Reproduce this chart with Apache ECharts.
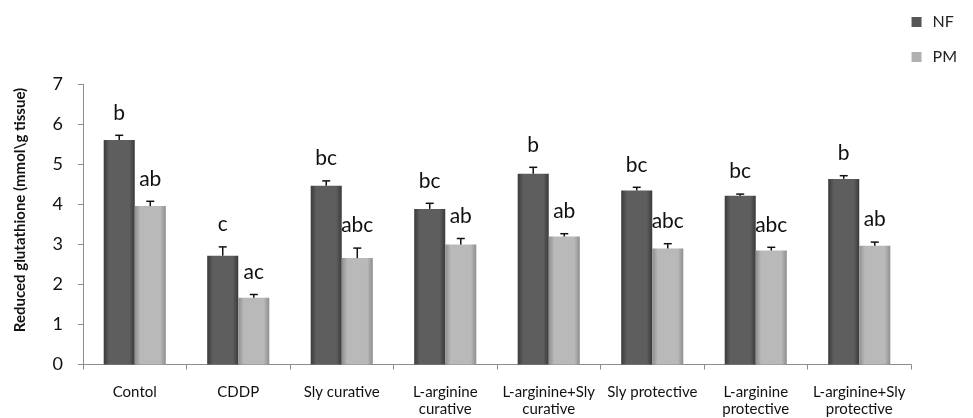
<!DOCTYPE html>
<html>
<head>
<meta charset="utf-8">
<script src="https://cdn.jsdelivr.net/npm/echarts@6/dist/echarts.min.js"></script>
<style>html,body{margin:0;padding:0;background:#fff}#c{width:973px;height:418px}</style>
</head>
<body>
<div id="c"></div>
<script>
var categories = ["Contol", "CDDP", "Sly curative", "L-arginine\ncurative", "L-arginine+Sly\ncurative", "Sly protective", "L-arginine\nprotective", "L-arginine+Sly\nprotective"];
var nfValues = [5.61, 2.72, 4.47, 3.89, 4.77, 4.35, 4.22, 4.64];
var nfErrors = [0.12, 0.22, 0.12, 0.14, 0.16, 0.08, 0.04, 0.08];
var nfLetters = ["b", "c", "bc", "bc", "b", "bc", "bc", "b"];
var pmValues = [3.96, 1.67, 2.66, 3.00, 3.20, 2.90, 2.85, 2.97];
var pmErrors = [0.12, 0.08, 0.25, 0.15, 0.07, 0.12, 0.08, 0.09];
var pmLetters = ["ab", "ac", "abc", "ab", "ab", "abc", "abc", "ab"];
var yTicks = [0, 1, 2, 3, 4, 5, 6, 7];
var yAxisTitle = 'Reduced glutathione (mmol\\g tissue)';

var FONT = "Lato, 'Open Sans', sans-serif";
var chart = echarts.init(document.getElementById('c'));

function grad(edge, mid) {
  return new echarts.graphic.LinearGradient(0, 0, 1, 0, [
    {offset: 0, color: edge}, {offset: 0.18, color: mid},
    {offset: 0.82, color: mid}, {offset: 1, color: edge}
  ]);
}

function errSeries(values, errors, letters, side) {
  var data = values.map(function (v, i) { return [i, v, v + errors[i], letters[i]]; });
  return {
    type: 'custom',
    z: 5,
    silent: true,
    renderItem: function (params, api) {
      var i = api.value(0);
      var base = api.coord([i, api.value(1)]);
      var top = api.coord([i, api.value(2)]);
      var bw = api.size([1, 0])[0];
      var barW = bw * 0.3;
      var x = base[0] + side * barW / 2;
      var cap = 4;
      return {
        type: 'group',
        children: [
          {type: 'line', shape: {x1: x, y1: base[1], x2: x, y2: top[1]}, style: {stroke: '#111', lineWidth: 1.5}},
          {type: 'line', shape: {x1: x - cap, y1: top[1], x2: x + cap, y2: top[1]}, style: {stroke: '#111', lineWidth: 1.5}},
          {type: 'text', style: {x: x, y: top[1] - 12, text: data[params.dataIndex][3], textAlign: 'center', textVerticalAlign: 'bottom', fontSize: 21, fontFamily: FONT, fill: '#111'}}
        ]
      };
    },
    data: data
  };
}

chart.setOption({
  animation: false,
  grid: {left: 83, right: 62, top: 84.5, bottom: 53.5},
  graphic: [{
    type: 'text', x: 20, y: 210, rotation: Math.PI / 2,
    style: {text: yAxisTitle, textAlign: 'center', textVerticalAlign: 'middle',
      fontSize: 15, fontWeight: 'bold', fontFamily: FONT, fill: '#111'}
  }],
  legend: {
    orient: 'vertical', right: 11, top: 9, itemGap: 19,
    itemWidth: 10, itemHeight: 10,
    textStyle: {fontSize: 16, fontFamily: FONT, color: '#222', padding: [0, 0, 0, 6]},
    data: [
      {name: 'NF', icon: 'rect', itemStyle: {color: '#555'}},
      {name: 'PM', icon: 'rect', itemStyle: {color: '#b0b0b0'}}
    ]
  },
  xAxis: {
    type: 'category',
    data: categories,
    axisLine: {lineStyle: {color: '#8c8c8c', width: 1}},
    axisTick: {show: true, length: 5, lineStyle: {color: '#8c8c8c'}},
    axisLabel: {interval: 0, fontSize: 15, fontFamily: FONT, color: '#111', margin: 19, lineHeight: 17}
  },
  yAxis: {
    type: 'value', min: 0, max: 7, interval: 1,
    axisLine: {show: true, lineStyle: {color: '#8c8c8c'}},
    axisTick: {show: true, length: 5, lineStyle: {color: '#8c8c8c'}},
    splitLine: {show: false},
    axisLabel: {fontSize: 18, fontFamily: FONT, color: '#111', margin: 20,
      formatter: function (v) { return yTicks.indexOf(v) >= 0 ? String(v) : ''; }}
  },
  series: [
    {name: 'NF', type: 'bar', data: nfValues, barWidth: '30%', barGap: '0%',
      itemStyle: {color: grad('#3a3a3a', '#5e5e5e')}},
    {name: 'PM', type: 'bar', data: pmValues, barWidth: '30%', barGap: '0%',
      itemStyle: {color: grad('#8e8e8e', '#b9b9b9')}},
    errSeries(nfValues, nfErrors, nfLetters, -1),
    errSeries(pmValues, pmErrors, pmLetters, 1)
  ]
});
</script>
</body>
</html>
